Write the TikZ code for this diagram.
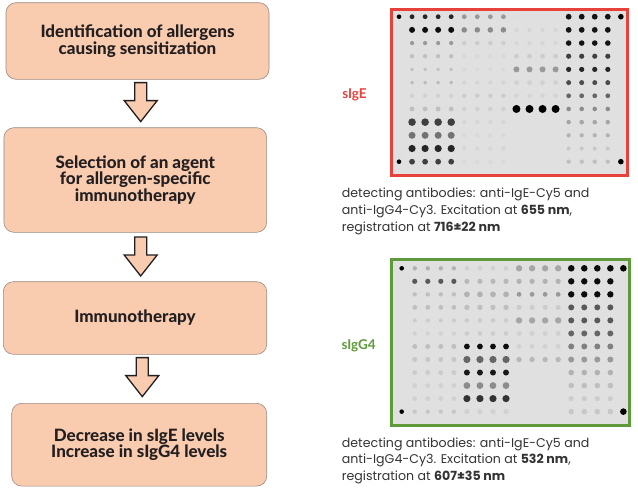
\documentclass[tikz,border=0pt]{standalone}
\usepackage{fontspec}
\setmainfont{Lato}
\newfontfamily\stagefont{Lato Heavy}
\newfontfamily\capfont{Poppins}
\usetikzlibrary{calc}
\definecolor{peach}{HTML}{F9CCB0}
\definecolor{boxgrey}{HTML}{9A8A82}
\definecolor{inkdark}{HTML}{231F20}
\definecolor{capgrey}{HTML}{333333}
\definecolor{redframe}{HTML}{E8403A}
\definecolor{greenframe}{HTML}{5E9A3A}
\tikzset{
  stagebox/.style={draw=boxgrey, fill=peach, rounded corners=10pt, align=center,
    line width=0.6pt, text=inkdark, font=\stagefont\fontsize{17}{16.7}\selectfont},
  caption/.style={anchor=north west, inner sep=0pt, align=left, text=capgrey,
    font=\capfont\fontsize{12.6}{16.7}\selectfont},
  chiplabel/.style={inner sep=0pt, font=\bfseries\fontsize{13.5}{15}\selectfont},
  chipframe/.style={line width=3pt, fill=black!12, inner sep=0pt, minimum height=165.4pt},
  downarrow/.pic={
    \draw[fill=peach, draw=inkdark, line width=1.3pt, line join=miter]
      (-6,0) -- (-6,18) -- (-16.5,18) -- (0,39) -- (16.5,18) -- (6,18) -- (6,0) -- cycle;
  }
}
\begin{document}
\begin{tikzpicture}[x=1pt, y=-1pt]
\useasboundingbox (0,0) rectangle (638,493);

% stages
\node[stagebox, minimum width=263pt, minimum height=76.6pt] (ident) at (137.5,41)
  {Identification of allergens\\causing sensitization};
\node[stagebox, minimum width=262.7pt, minimum height=104.6pt] (select) at (135.3,180)
  {Selection of an agent\\for allergen-specific\\immunotherapy};
\node[stagebox, minimum width=263.4pt, minimum height=72.6pt] (therapy) at (135,318)
  {Immunotherapy};
\node[stagebox, minimum width=255pt, minimum height=82.7pt] (result) at (139.2,444.7)
  {Decrease in sIgE levels\\Increase in sIgG4 levels};

\pic at ($(ident.south)+(3.2,3)$) {downarrow};
\pic at ($(select.south)+(5.4,4.4)$) {downarrow};
\pic at ($(therapy.south)+(7.3,3)$) {downarrow};

% sIgE chip
\node[chipframe, draw=redframe, minimum width=236.3pt] (chipE) at (509.65,92.5) {};
\node[chiplabel, text=redframe] (labE) at (354.5,95) {sIgE};
\begin{scope}[shift={(399,16.7)}]
  \foreach \rw [count=\j from 0] in {
    {85/2.4,40/2.4,13/2,92/2.9},
    {95/3,45/2.8,16/2.2,92/2.9},
    {40/2.1,20/2.2,16/2.2,92/2.8},
    {25/2.2,15/2.2,20/2.4,75/2.6},
    {25/1.9,15/2,40/3,85/2.6},
    {28/1.9,17/2,18/2.4,70/2.5},
    {18/2.2,20/2.2,17/2.3,60/2.4},
    {25/2.4,18/2.3,100/4,45/2.3},
    {75/3.8,16/2.2,12/2,35/2.3},
    {55/3.5,15/2.2,12/2,30/2.1},
    {85/3.6,16/2.2,12/2,22/2},
    {75/2.9,15/2.2,12/2,25/2.2}}{
    \foreach \v/\s [count=\b from 0] in \rw {
      \foreach \k in {1,...,4}
        \fill[black!\v] ({13.05*(4*\b+\k)},{13.18*\j}) circle (\s pt);
    }
  }
  \fill[black] (0,0) circle (2.3pt) (0,{13.18*11}) circle (2.3pt)
    ({13.05*17},0) circle (2.8pt) ({13.05*17},{13.18*11}) circle (2.8pt);
\end{scope}
\node[caption] (capE) at (341.7,188)
  {detecting antibodies: anti-IgE-Cy5 and\\anti-IgG4-Cy3. Excitation at \textbf{655 nm},\\registration at \textbf{716±22 nm}};

% sIgG4 chip
\node[chipframe, draw=greenframe, minimum width=237.7pt] (chipG) at (510.35,342.5) {};
\node[chiplabel, text=greenframe] (labG) at (358.7,346) {sIgG4};
\begin{scope}[shift={(401.7,268.3)}]
  \foreach \rw [count=\j from 0] in {
    {30/2.2,18/2.4,35/3.2,95/3.3},
    {65/2.6,28/2.6,30/2.6,95/3.2},
    {25/2.2,30/2.9,40/2.4,95/3.2},
    {25/2.4,25/2.7,20/2.6,65/3},
    {20/2.1,20/2.3,35/3.2,65/3},
    {18/2.1,20/2.3,18/2.6,60/3},
    {25/2.5,95/2.9,18/2.4,50/3},
    {22/2.5,60/3.6,28/2.7,40/3},
    {20/2.5,90/3,12/2,30/2.8},
    {18/2.4,45/3.4,12/2,25/2.8},
    {18/2.4,80/3.6,12/2,20/2.6},
    {22/2.2,18/2.6,12/2,22/2.8}}{
    \foreach \v/\s [count=\b from 0] in \rw {
      \foreach \k in {1,...,4}
        \fill[black!\v] ({13.04*(4*\b+\k)},{13.03*\j}) circle (\s pt);
    }
  }
  \fill[black] (0,0) circle (2.3pt) (0,{13.03*11}) circle (2.3pt)
    ({13.04*17},0) circle (3.3pt) ({13.04*17},{13.03*11}) circle (3.3pt);
\end{scope}
\node[caption] (capG) at (341.7,437.5)
  {detecting antibodies: anti-IgE-Cy5 and\\anti-IgG4-Cy3. Excitation at \textbf{532 nm},\\registration at \textbf{607±35 nm}};
\end{tikzpicture}
\end{document}
